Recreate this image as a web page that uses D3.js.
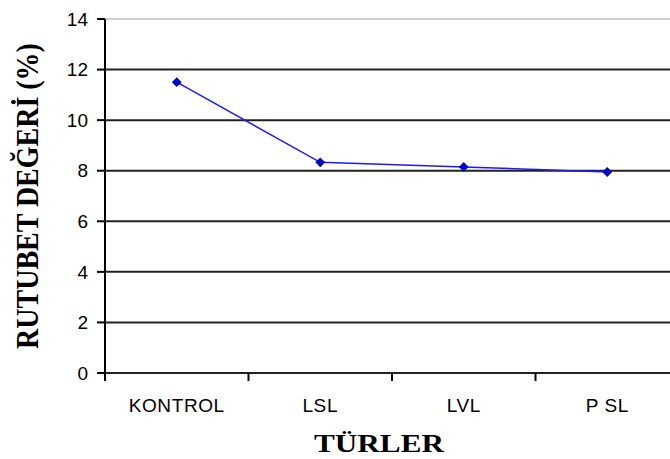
<!DOCTYPE html>
<html lang="tr">
<head>
    <meta charset="UTF-8">
    <title>Rutubet Değeri</title>
    <script src="https://d3js.org/d3.v7.min.js"></script>
    <style>
        body { margin: 0; background: #fff; }
        .tick-label { font-family: "Liberation Sans", Arial, sans-serif; font-size: 19px; fill: #000; }
        .title { font-family: "Liberation Serif", "Times New Roman", serif; font-weight: bold; fill: #000; }
    </style>
</head>
<body>
    <svg id="chart"></svg>

    <script>
        const categories = ["KONTROL", "LSL", "LVL", "P SL"];
        const values = [11.5, 8.33, 8.15, 7.95];
        const yTicks = [0, 2, 4, 6, 8, 10, 12, 14];

        const width = 670;
        const height = 459;
        const plotLeft = 105, plotRight = 679, plotTop = 19, plotBottom = 373;

        const svg = d3.select("#chart")
            .attr("width", width)
            .attr("height", height);

        const x = d3.scalePoint()
            .domain(categories)
            .range([plotLeft, plotRight])
            .padding(0.5);

        const xBand = d3.scaleBand()
            .domain(categories)
            .range([plotLeft, plotRight]);

        const y = d3.scaleLinear()
            .domain([0, 14])
            .range([plotBottom, plotTop]);

        // grid lines (top one is the light plot border)
        svg.selectAll("line.grid")
            .data(yTicks)
            .enter()
            .append("line")
            .attr("x1", plotLeft)
            .attr("x2", width)
            .attr("y1", d => y(d))
            .attr("y2", d => y(d))
            .attr("stroke", d => d === 14 ? "#cfcfcf" : "#222")
            .attr("stroke-width", 2);

        // y axis
        svg.append("line")
            .attr("x1", plotLeft).attr("x2", plotLeft)
            .attr("y1", y(14)).attr("y2", plotBottom)
            .attr("stroke", "#000")
            .attr("stroke-width", 2);

        svg.selectAll("line.ytick")
            .data(yTicks)
            .enter()
            .append("line")
            .attr("x1", plotLeft - 8)
            .attr("x2", plotLeft)
            .attr("y1", d => y(d))
            .attr("y2", d => y(d))
            .attr("stroke", "#000")
            .attr("stroke-width", 2);

        svg.selectAll("text.ylab")
            .data(yTicks)
            .enter()
            .append("text")
            .attr("class", "tick-label")
            .attr("x", 88)
            .attr("y", d => y(d))
            .attr("dy", "0.35em")
            .attr("text-anchor", "end")
            .text(d => d);

        // x ticks at category boundaries
        const xEdges = categories.map(c => xBand(c)).concat([plotRight]);
        svg.selectAll("line.xtick")
            .data(xEdges)
            .enter()
            .append("line")
            .attr("x1", d => d)
            .attr("x2", d => d)
            .attr("y1", plotBottom)
            .attr("y2", plotBottom + 8)
            .attr("stroke", "#000")
            .attr("stroke-width", 2);

        svg.selectAll("text.xlab")
            .data(categories)
            .enter()
            .append("text")
            .attr("class", "tick-label")
            .attr("x", d => x(d))
            .attr("y", 412)
            .attr("text-anchor", "middle")
            .style("letter-spacing", "0.6px")
            .text(d => d);

        // series
        const points = categories.map((c, i) => [x(c), y(values[i])]);

        svg.append("path")
            .attr("d", d3.line()(points))
            .attr("fill", "none")
            .attr("stroke", "#1a1aff")
            .attr("stroke-width", 1.5);

        svg.selectAll("path.marker")
            .data(points)
            .enter()
            .append("path")
            .attr("d", d3.symbol().type(d3.symbolSquare).size(48))
            .attr("transform", d => `translate(${d[0]},${d[1]}) rotate(45)`)
            .attr("fill", "#0000cc");

        // axis titles
        svg.append("text")
            .attr("class", "title")
            .attr("transform", "translate(379,452) scale(1.2,1)")
            .attr("text-anchor", "middle")
            .style("font-size", "26px")
            .text("TÜRLER");

        svg.append("text")
            .attr("class", "title")
            .attr("transform", "translate(38,196) scale(1.15,1) rotate(-90)")
            .attr("text-anchor", "middle")
            .style("font-size", "28px")
            .text("RUTUBET DEĞERİ (%)");
    </script>
</body>
</html>
